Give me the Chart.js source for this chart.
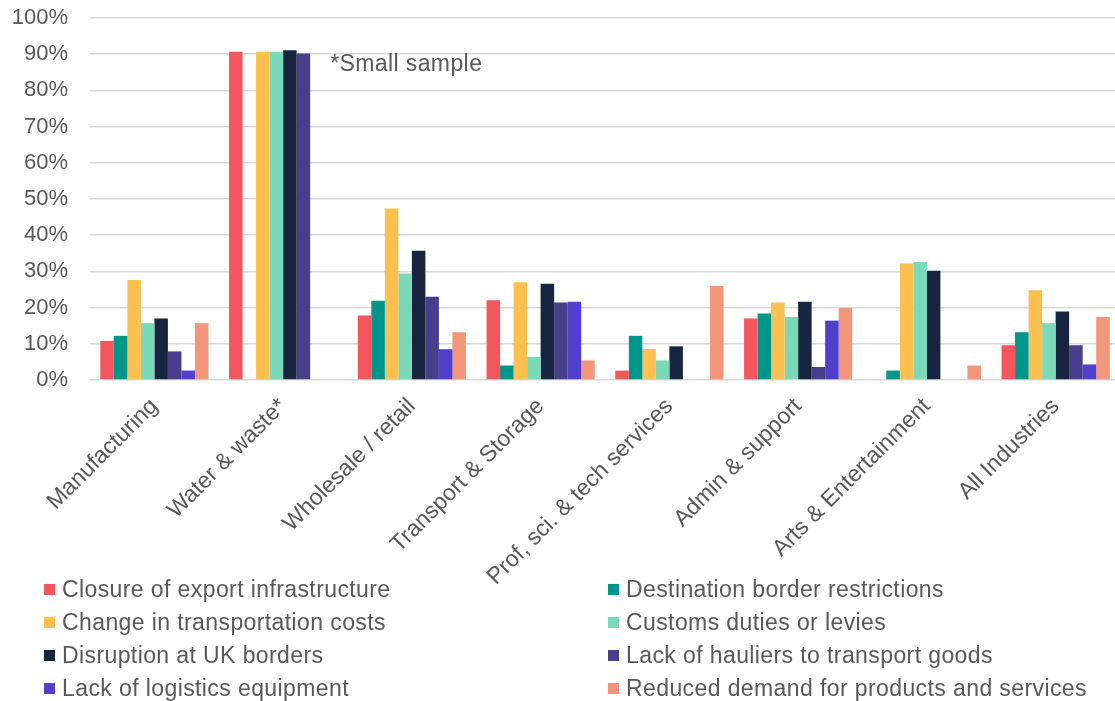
<!DOCTYPE html>
<html>
<head>
<meta charset="utf-8">
<script src="https://cdn.jsdelivr.net/npm/chart.js@4/dist/chart.umd.min.js"></script>
<style>
  html, body { margin: 0; padding: 0; background: #ffffff; overflow: hidden; }
  #wrap { width: 1115px; height: 701px; overflow: hidden; position: relative; }
  canvas { display: block; }
</style>
</head>
<body>
<div id="wrap"><canvas id="chart" width="1121" height="701"></canvas></div>
<script>
// Sectors on the x axis
const categories = [
  'Manufacturing',
  'Water & waste*',
  'Wholesale / retail',
  'Transport & Storage',
  'Prof, sci. & tech services',
  'Admin & support',
  'Arts & Entertainment',
  'All Industries'
];

// Share of businesses reporting each issue (%), one value per sector
const closureOfExportInfrastructure = [10.8, 90.7, 17.8, 22.0, 2.6, 17.0, 0, 9.6];
const destinationBorderRestrictions = [12.2, 0, 21.9, 4.0, 12.2, 18.4, 2.6, 13.2];
const changeInTransportationCosts   = [27.6, 90.7, 47.4, 27.0, 8.6, 21.4, 32.2, 24.8];
const customsDutiesOrLevies         = [15.7, 90.7, 29.4, 6.4, 5.4, 17.4, 32.6, 15.7];
const disruptionAtUKBorders         = [17.0, 91.1, 35.7, 26.6, 9.3, 21.6, 30.2, 18.9];
const lackOfHauliers                = [7.9, 90.2, 23.0, 21.4, 0, 3.6, 0, 9.6];
const lackOfLogisticsEquipment      = [2.6, 0, 8.5, 21.6, 0, 16.4, 0, 4.3];
const reducedDemand                 = [15.7, 0, 13.2, 5.4, 26.0, 19.9, 4.0, 17.4];

const seriesNames = [
  'Closure of export infrastructure',
  'Destination border restrictions',
  'Change in transportation costs',
  'Customs duties or levies',
  'Disruption at UK borders',
  'Lack of hauliers to transport goods',
  'Lack of logistics equipment',
  'Reduced demand for products and services'
];
const seriesValues = [
  closureOfExportInfrastructure,
  destinationBorderRestrictions,
  changeInTransportationCosts,
  customsDutiesOrLevies,
  disruptionAtUKBorders,
  lackOfHauliers,
  lackOfLogisticsEquipment,
  reducedDemand
];
const seriesColors = [
  '#F4565F', '#00968A', '#FBC04F', '#7AD9B9',
  '#172540', '#483E8C', '#5240CC', '#F3967A'
];

// Y axis tick values
const yTicks = [0, 10, 20, 30, 40, 50, 60, 70, 80, 90, 100];

const FONT = '"Liberation Sans", Arial, "DejaVu Sans", sans-serif';
const TEXT = '#595959';

// Two-column legend beneath the axis labels
const columnLegend = {
  id: 'columnLegend',
  afterDraw(chart) {
    const ctx = chart.ctx;
    ctx.save();
    ctx.font = '23px ' + FONT;
    ctx.letterSpacing = '0.4px';
    ctx.textBaseline = 'middle';
    const colX = [44, 608];
    const rowY = [590, 623, 656, 689];
    seriesNames.forEach((name, i) => {
      const col = i % 2;
      const row = Math.floor(i / 2);
      const x = colX[col];
      const y = rowY[row];
      ctx.fillStyle = seriesColors[i];
      ctx.fillRect(x, y - 6, 11, 11);
      ctx.fillStyle = TEXT;
      ctx.fillText(name, x + 18, y + 1);
    });
    ctx.restore();
  }
};

// Footnote beside the Water & waste group
const sampleNote = {
  id: 'sampleNote',
  afterDraw(chart) {
    const ctx = chart.ctx;
    const xs = chart.scales.x;
    const ys = chart.scales.y;
    ctx.save();
    ctx.font = '23px ' + FONT;
    ctx.letterSpacing = '0.4px';
    ctx.fillStyle = TEXT;
    ctx.textBaseline = 'middle';
    ctx.textAlign = 'left';
    ctx.fillText('*Small sample', xs.getPixelForValue(1) + 47, ys.getPixelForValue(87));
    ctx.restore();
  }
};

new Chart(document.getElementById('chart'), {
  type: 'bar',
  data: {
    labels: categories,
    datasets: seriesNames.map((name, i) => ({
      label: name,
      data: seriesValues[i],
      backgroundColor: seriesColors[i],
      borderWidth: 0,
      barPercentage: 1,
      categoryPercentage: 0.84
    }))
  },
  options: {
    responsive: false,
    animation: false,
    events: [],
    layout: { padding: { top: 18, right: 1, bottom: 0, left: 0 } },
    plugins: {
      legend: { display: false },
      tooltip: { enabled: false }
    },
    scales: {
      x: {
        grid: { display: false },
        border: { display: false },
        ticks: {
          autoSkip: false,
          maxRotation: 45,
          minRotation: 45,
          padding: 5,
          color: TEXT,
          font: { family: FONT, size: 23 }
        },
        afterFit(scale) { scale.height = 321; }
      },
      y: {
        min: 0,
        max: 100,
        afterBuildTicks(scale) { scale.ticks = yTicks.map(v => ({ value: v })); },
        grid: { color: '#D9D9D9', lineWidth: 1.5, drawTicks: false },
        border: { display: false },
        ticks: {
          padding: 22,
          color: TEXT,
          font: { family: FONT, size: 22 },
          callback: v => v + '%'
        },
        afterFit(scale) {
          scale.width = 90;
          scale.paddingTop = 0;
          scale.paddingBottom = 0;
        }
      }
    }
  },
  plugins: [columnLegend, sampleNote]
});
</script>
</body>
</html>
